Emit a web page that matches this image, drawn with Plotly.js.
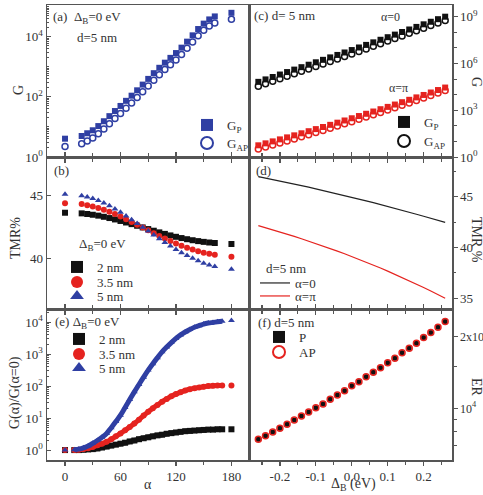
<!DOCTYPE html>
<html><head><meta charset="utf-8">
<script src="https://cdn.plot.ly/plotly-3.0.1.min.js"></script>
<style>html,body{margin:0;padding:0;background:#fff}#c{width:483px;height:495px}</style>
</head><body><div id="c"></div>
<script>
// ---------- data ----------
// (a) G vs alpha (d=5 nm, Delta_B=0)
const alphaA = [0,18,24,30,36,42,48,54,60,66,72,78,84,90,96,102,108,114,120,126,132,138,144,150,156,162,180];
const gP_a  = [4.07,5.01,6.17,7.76,10.7,15.5,22.9,33.9,50.1,74.1,110,166,257,398,617,933,1380,1995,2884,4365,6918,11220,18200,27540,38020,47860,63100];
const gAP_a = [2.24,2.76,3.40,4.29,5.93,8.62,12.79,19.02,28.24,41.98,62.65,95.0,147.9,230.2,358.8,545.3,810.8,1178,1710,2599,4136,6732,10956,16629,23013,29027,38409];
// (b) TMR% vs alpha
const tmr2  = [43.60,43.55,43.50,43.44,43.37,43.28,43.18,43.07,42.95,42.83,42.70,42.57,42.44,42.31,42.18,42.05,41.93,41.81,41.70,41.60,41.51,41.43,41.36,41.30,41.25,41.21,41.13];
const tmr35 = [44.34,44.28,44.20,44.10,43.98,43.84,43.68,43.50,43.30,43.09,42.87,42.65,42.43,42.21,41.99,41.77,41.56,41.36,41.17,41.00,40.84,40.69,40.56,40.45,40.36,40.29,40.13];
const tmr5  = [45.05,44.95,44.85,44.72,44.56,44.37,44.15,43.90,43.63,43.35,43.05,42.75,42.45,42.15,41.85,41.55,41.25,40.97,40.70,40.45,40.22,40.00,39.80,39.62,39.47,39.35,39.13];
// (e) G(alpha)/G(0)
const alphaBand = [10,15,20,25,30,35,40,45,50,55,60,65,70,75,80,85,90,95,100,105,110,115,120,125,130,135,140,145,150,155,160,165,170];
const ratio2  = [1.0,1.0,1.023,1.047,1.072,1.122,1.202,1.288,1.380,1.479,1.585,1.698,1.862,1.995,2.188,2.344,2.512,2.692,2.884,3.020,3.236,3.388,3.548,3.715,3.890,3.981,4.074,4.169,4.266,4.365,4.365,4.467,4.467];
const ratio35 = [1.0,1.023,1.072,1.148,1.259,1.413,1.585,1.820,2.188,2.692,3.311,4.169,5.248,6.761,8.913,12.02,15.85,20.42,25.70,32.36,39.81,47.86,56.23,64.57,72.44,79.43,85.11,91.20,95.50,100.0,102.3,104.7,104.7];
const ratio5  = [1.023,1.072,1.175,1.349,1.622,1.995,2.512,3.311,5.012,7.762,12.30,21.38,38.02,66.07,112.2,190.5,316.2,501.2,776.2,1175,1660,2291,3090,3981,4898,5888,6918,7762,8710,9333,9772,10230,10720];
const alphaEnd = [0,180];
const ratio2End  = [1.0,4.467];
const ratio35End = [1.0,104.7];
const ratio5End  = [1.0,11220];
// (c) G vs Delta_B
const deltaB = [-0.26,-0.24,-0.22,-0.20,-0.18,-0.16,-0.14,-0.12,-0.10,-0.08,-0.06,-0.04,-0.02,0.00,0.02,0.04,0.06,0.08,0.10,0.12,0.14,0.16,0.18,0.20,0.22,0.24,0.26];
const gP0   = [6.61e4,9.48e4,1.36e5,1.95e5,2.81e5,4.03e5,5.78e5,8.30e5,1.19e6,1.71e6,2.45e6,3.52e6,5.06e6,7.24e6,1.06e7,1.55e7,2.26e7,3.31e7,4.84e7,7.08e7,1.04e8,1.51e8,2.21e8,3.24e8,4.73e8,6.92e8,1.0e9];
const gAP0  = [3.50e4,5.04e4,7.25e4,1.04e5,1.51e5,2.17e5,3.12e5,4.49e5,6.45e5,9.30e5,1.34e6,1.93e6,2.78e6,3.99e6,5.85e6,8.59e6,1.26e7,1.85e7,2.71e7,3.98e7,5.86e7,8.53e7,1.25e8,1.84e8,2.70e8,3.97e8,5.75e8];
const gPpi  = [5.62,7.50,10.03,13.47,18.13,24.49,33.19,45.11,61.55,84.2,115.6,159.2,220.0,305.0,424.0,591.6,827.9,1163,1638,2314,3281,4667,6660,9533,13690,19720,28510];
const gAPpi = [3.25,4.35,5.84,7.88,10.64,14.43,19.63,26.78,36.69,50.40,69.49,96.09,133.4,185.7,259.3,363.5,511.1,721.3,1021,1449,2065,2952,4235,6094,8800,12747,18532];
// (d) TMR% vs Delta_B
const tmrA0  = [46.97,46.83,46.69,46.54,46.39,46.24,46.09,45.93,45.77,45.61,45.45,45.28,45.11,44.94,44.77,44.59,44.41,44.23,44.04,43.85,43.66,43.47,43.27,43.07,42.87,42.67,42.47];
const tmrApi = [42.15,41.95,41.74,41.53,41.31,41.09,40.86,40.63,40.39,40.14,39.89,39.64,39.38,39.11,38.84,38.56,38.27,37.98,37.68,37.37,37.06,36.74,36.41,36.07,35.72,35.36,35.00];
// (f) ER vs Delta_B
const erP  = [7407,7674,7953,8239,8563,8929,9283,9650,10062,10426,10907,11374,11862,12451,12941,13584,14166,14820,15553,16218,17130,17870,18750,19810,20790,21890,23130];
const erAP = [7407,7674,7953,8239,8563,8929,9283,9650,10062,10426,10907,11374,11862,12451,12941,13584,14166,14820,15553,16218,17130,17870,18750,19810,20790,21890,23130];
// tick labels
const alphaTicks = [0,60,120,180];
const alphaTickText = ['0','60','120','180'];
const deltaTicks = [-0.2,-0.1,0,0.1,0.2];
const deltaTickText = ['-0.2','-0.1','0.0','0.1','0.2'];

// ---------- style ----------
const BLUE = '#2f3fa3', RED = '#e5231f', BLK = '#111111';
const FONT = 'Liberation Serif, Times New Roman, serif';
const TXT = '#333333';
const LINE = '#555555';
const W = 483, H = 495;
const px = v => v / W;
const py = v => 1 - v / H;

const traces = [
  // (a)
  {x: alphaA, y: gP_a, xaxis:'x', yaxis:'y', mode:'markers', name:'G<sub>P</sub>', legend:'legend',
   marker:{symbol:'square', size:6, color:BLUE}},
  {x: alphaA, y: gAP_a, xaxis:'x', yaxis:'y', mode:'markers', name:'G<sub>AP</sub>', legend:'legend2',
   marker:{symbol:'circle-open', size:6, color:BLUE, line:{width:1.5, color:BLUE}}},
  // (b)
  {x: alphaA, y: tmr2, xaxis:'x2', yaxis:'y2', mode:'markers', name:'2 nm', legend:'legend3',
   marker:{symbol:'square', size:6, color:BLK}},
  {x: alphaA, y: tmr35, xaxis:'x2', yaxis:'y2', mode:'markers', name:'3.5 nm', legend:'legend4',
   marker:{symbol:'circle', size:6, color:RED}},
  {x: alphaA, y: tmr5, xaxis:'x2', yaxis:'y2', mode:'markers', name:'5 nm', legend:'legend5',
   marker:{symbol:'triangle-up', size:6, color:BLUE}},
  // (e) bands
  {x: alphaBand, y: ratio2, xaxis:'x3', yaxis:'y3', mode:'lines+markers', showlegend:false,
   line:{color:BLK, width:5, shape:'spline'}, marker:{symbol:'square', size:6, color:BLK}},
  {x: alphaBand, y: ratio35, xaxis:'x3', yaxis:'y3', mode:'lines+markers', showlegend:false,
   line:{color:RED, width:5, shape:'spline'}, marker:{symbol:'circle', size:6, color:RED}},
  {x: alphaBand, y: ratio5, xaxis:'x3', yaxis:'y3', mode:'lines+markers', showlegend:false,
   line:{color:BLUE, width:5, shape:'spline'}, marker:{symbol:'triangle-up', size:6, color:BLUE}},
  {x: alphaEnd, y: ratio2End, xaxis:'x3', yaxis:'y3', mode:'markers', name:'2 nm', legend:'legend6',
   marker:{symbol:'square', size:6, color:BLK}},
  {x: alphaEnd, y: ratio35End, xaxis:'x3', yaxis:'y3', mode:'markers', name:'3.5 nm', legend:'legend7',
   marker:{symbol:'circle', size:6, color:RED}},
  {x: alphaEnd, y: ratio5End, xaxis:'x3', yaxis:'y3', mode:'markers', name:'5 nm', legend:'legend8',
   marker:{symbol:'triangle-up', size:6, color:BLUE}},
  // (c)
  {x: deltaB, y: gP0, xaxis:'x4', yaxis:'y4', mode:'markers', name:'G<sub>P</sub>', legend:'legend9',
   marker:{symbol:'square', size:6, color:BLK}},
  {x: deltaB, y: gAP0, xaxis:'x4', yaxis:'y4', mode:'markers', name:'G<sub>AP</sub>', legend:'legend10',
   marker:{symbol:'circle-open', size:6, color:BLK, line:{width:1.5, color:BLK}}},
  {x: deltaB, y: gPpi, xaxis:'x4', yaxis:'y4', mode:'markers', showlegend:false,
   marker:{symbol:'square', size:6, color:RED}},
  {x: deltaB, y: gAPpi, xaxis:'x4', yaxis:'y4', mode:'markers', showlegend:false,
   marker:{symbol:'circle-open', size:6, color:RED, line:{width:1.5, color:RED}}},
  // (d)
  {x: deltaB, y: tmrA0, xaxis:'x5', yaxis:'y5', mode:'lines', name:'α=0', legend:'legend11',
   line:{color:'#222', width:1.2}},
  {x: deltaB, y: tmrApi, xaxis:'x5', yaxis:'y5', mode:'lines', name:'α=π', legend:'legend12',
   line:{color:RED, width:1.2}},
  // (f)
  {x: deltaB, y: erP, xaxis:'x6', yaxis:'y6', mode:'markers', name:'P', legend:'legend13',
   marker:{symbol:'square', size:5, color:BLK}},
  {x: deltaB, y: erAP, xaxis:'x6', yaxis:'y6', mode:'markers', name:'AP', legend:'legend14',
   marker:{symbol:'circle-open', size:6, color:RED, line:{width:1.5, color:RED}}}
];

const xL = [px(47), px(249)], xR = [px(249), px(452)];
const r1 = [py(157), py(5)], r2 = [py(309), py(157)], r3 = [py(460), py(309)];

const tickFont = {family: FONT, size: 13, color: TXT};
function xAlpha(anchor, showLabels, mirror) {
  return {domain: xL, anchor, range: [-19.5, 199], tickmode:'array', tickvals: alphaTicks, ticktext: alphaTickText,
    showticklabels: showLabels, ticks:'outside', ticklen:4, tickcolor:LINE, tickwidth:1.2,
    minor:{tickvals:[30,90,150], ticks:'outside', ticklen:3, tickcolor:LINE},
    showline:true, linecolor:LINE, linewidth:1.5, mirror: mirror, showgrid:false, zeroline:false, tickfont: tickFont};
}
function xDelta(anchor, showLabels, mirror) {
  return {domain: xR, anchor, range: [-0.286, 0.279], tickmode:'array', tickvals: deltaTicks, ticktext: deltaTickText,
    showticklabels: showLabels, ticks:'outside', ticklen:4, tickcolor:LINE, tickwidth:1.2,
    minor:{tickvals:[-0.25,-0.15,-0.05,0.05,0.15,0.25], ticks:'outside', ticklen:3, tickcolor:LINE},
    showline:true, linecolor:LINE, linewidth:1.5, mirror: mirror, showgrid:false, zeroline:false, tickfont: tickFont};
}
const sup = p => '10<sup>' + p + '</sup>';
const logMinor = [];
[1,10,100,1000,10000,100000].forEach(d => { for (let k = 2; k <= 9; k++) logMinor.push(k*d); });

const layout = {
  width: W, height: H, margin:{l:0,r:0,t:0,b:0}, paper_bgcolor:'#fff', plot_bgcolor:'#fff',
  font:{family: FONT, size:12, color: TXT},
  xaxis:  xAlpha('y', false, true),
  xaxis2: xAlpha('y2', false, 'ticks'),
  xaxis3: xAlpha('y3', true, 'ticks'),
  xaxis4: xDelta('y4', false, true),
  xaxis5: xDelta('y5', false, 'ticks'),
  xaxis6: xDelta('y6', true, 'ticks'),
  yaxis: {domain: r1, anchor:'x', type:'log', range:[0, 5.06], tickmode:'array', tickvals:[1,100,10000],
    ticktext:[sup(0), sup(2), sup(4)], ticks:'inside', ticklen:4, tickcolor:LINE,
    minor:{tickvals: logMinor.concat([10,1000,100000]), ticks:'inside', ticklen:2, tickcolor:LINE},
    showline:true, linecolor:LINE, linewidth:1.5, mirror:true, showgrid:false, zeroline:false, tickfont: tickFont},
  yaxis2: {domain: r2, anchor:'x2', range:[36, 48], tickmode:'array', tickvals:[40,45], ticktext:['40','45'],
    ticks:'inside', ticklen:4, tickcolor:LINE,
    showline:true, linecolor:LINE, linewidth:1.5, mirror:true, showgrid:false, zeroline:false, tickfont: tickFont},
  yaxis3: {domain: r3, anchor:'x3', type:'log', range:[-0.31, 4.41], tickmode:'array', tickvals:[1,10,100,1000,10000],
    ticktext:[sup(0), sup(1), sup(2), sup(3), sup(4)], ticks:'inside', ticklen:4, tickcolor:LINE,
    minor:{tickvals: logMinor, ticks:'inside', ticklen:2, tickcolor:LINE},
    showline:true, linecolor:LINE, linewidth:1.5, mirror:true, showgrid:false, zeroline:false, tickfont: tickFont},
  yaxis4: {domain: r1, anchor:'x4', side:'right', type:'log', range:[0, 9.75], tickmode:'array', tickvals:[1,1e3,1e6,1e9],
    ticktext:[sup(0), sup(3), sup(6), sup(9)], ticks:'outside', ticklen:4, tickcolor:LINE,
    minor:{tickvals:[10,100,1e4,1e5,1e7,1e8], ticks:'outside', ticklen:3, tickcolor:LINE},
    showline:true, linecolor:LINE, linewidth:1.5, mirror:true, showgrid:false, zeroline:false, tickfont: tickFont},
  yaxis5: {domain: r2, anchor:'x5', side:'right', range:[33.95, 48.9], tickmode:'array', tickvals:[35,40,45],
    ticktext:['35','40','45'], ticks:'outside', ticklen:4, tickcolor:LINE,
    minor:{tickvals:[37.5,42.5,47.5], ticks:'outside', ticklen:2, tickcolor:LINE},
    showline:true, linecolor:LINE, linewidth:1.5, mirror:true, showgrid:false, zeroline:false, tickfont: tickFont},
  yaxis6: {domain: r3, anchor:'x6', side:'right', type:'log', range:[3.783, 4.417], tickmode:'array', tickvals:[1e4, 2e4],
    ticktext:[sup(4), '2x' + sup(4)], ticks:'outside', ticklen:4, tickcolor:LINE,
    minor:{tickvals:[7000,8000,9000,15000], ticks:'outside', ticklen:3, tickcolor:LINE},
    showline:true, linecolor:LINE, linewidth:1.5, mirror:true, showgrid:false, zeroline:false, tickfont: {family: FONT, size: 12, color: TXT}},
  annotations: []
};

// one legend per entry, placed near the reference's symbol centre
const legendSpots = [
  [207,125],[207,143],            // (a)
  [77,267],[77,282],[77,296],     // (b)
  [79,339],[79,354],[79,368],     // (e)
  [404,122],[404,141],            // (c)
  [275,283],[275,296],            // (d)
  [279,337],[279,352]             // (f)
];
legendSpots.forEach((s, i) => {
  const key = i === 0 ? 'legend' : 'legend' + (i + 1);
  layout[key] = {x: px(s[0] - 20), y: py(s[1]), xanchor:'left', yanchor:'middle', bgcolor:'rgba(0,0,0,0)',
    borderwidth:0, itemsizing: (i === 10 || i === 11) ? 'trace' : 'constant',
    font:{family:FONT, size:13, color:TXT}};
});

function ann(text, x, y, opts) {
  layout.annotations.push(Object.assign({text, x: px(x), y: py(y), xref:'paper', yref:'paper', showarrow:false,
    xanchor:'left', yanchor:'middle', font:{family:FONT, size:13, color:TXT}}, opts || {}));
}
const tf = {family:FONT, size:14, color:TXT};
// axis titles
ann('G', 18, 90, {xanchor:'center', textangle:-90, font:tf});
ann('TMR%', 15, 238, {xanchor:'center', textangle:-90, font:tf});
ann('G(α)/G(α=0)', 15, 393, {xanchor:'center', textangle:-90, font:tf});
ann('α', 148, 484, {xanchor:'center', font:tf});
ann('G', 476, 82, {xanchor:'center', textangle:90, font:tf});
ann('TMR %', 477, 240, {xanchor:'center', textangle:90, font:tf});
ann('ER', 477, 387, {xanchor:'center', textangle:90, font:tf});
ann('Δ<sub>B</sub> (eV)', 353, 484, {xanchor:'center', font:tf});
// panel labels
ann('(a)  Δ<sub>B</sub>=0 eV', 51, 17);
ann('d=5 nm', 75, 37);
ann('(b)', 52, 170);
ann('Δ<sub>B</sub>=0 eV', 77, 244);
ann('(c) d= 5 nm', 252, 16);
ann('α=0', 390, 17, {xanchor:'center', font:{family:FONT, size:12, color:TXT}});
ann('α=π', 398, 88, {xanchor:'center', font:{family:FONT, size:12, color:TXT}});
ann('(d)', 254, 170);
ann('d=5 nm', 264, 268);
ann('(e) Δ<sub>B</sub>=0 eV', 53, 322);
ann('(f) d=5 nm', 256, 322);

Plotly.newPlot('c', traces, layout, {staticPlot:true, displayModeBar:false});
</script></body></html>
